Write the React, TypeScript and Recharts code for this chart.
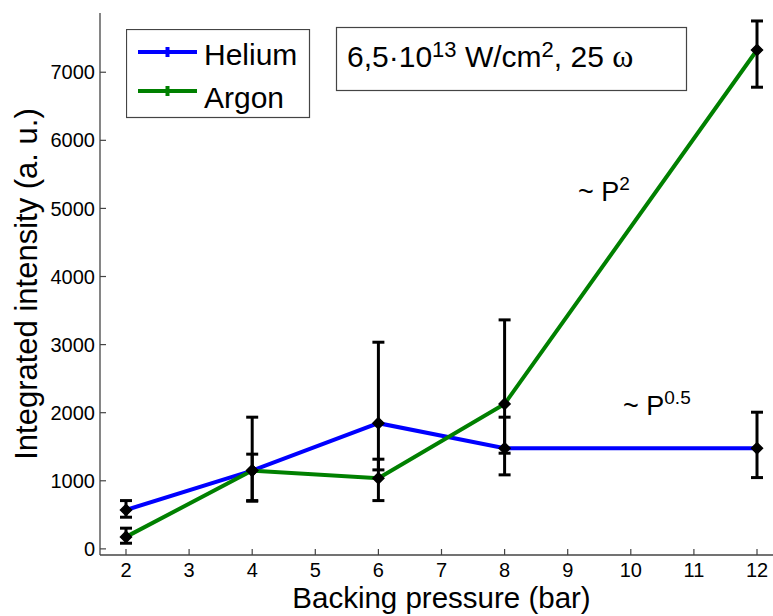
import React from 'react';
import { ComposedChart, Line, XAxis, YAxis, ErrorBar, Legend } from 'recharts';

// Backing pressure (bar)
const pressures = [2, 4, 6, 8, 12];
// Helium integrated intensity and error bounds
const helium = [571, 1150, 1846, 1478, 1478];
const heliumLow = [465, 709, 1160, 1087, 1047];
const heliumHigh = [709, 1934, 3035, 1934, 2007];
// Argon integrated intensity and error bounds
const argon = [176, 1150, 1038, 2129, 7327];
const argonLow = [83, 700, 709, 1405, 6780];
const argonHigh = [304, 1391, 1317, 3363, 7753];

const xTicks = [2, 3, 4, 5, 6, 7, 8, 9, 10, 11, 12];
const yTicks = [0, 1000, 2000, 3000, 4000, 5000, 6000, 7000];

const seriesNames = ['Helium', 'Argon'];
const seriesColors = ['#0000ff', '#008000'];

const data = pressures.map((p, i) => ({
  p,
  he: helium[i],
  heErr: [helium[i] - heliumLow[i], heliumHigh[i] - helium[i]],
  ar: argon[i],
  arErr: [argon[i] - argonLow[i], argonHigh[i] - argon[i]],
}));

const FONT = '"Liberation Sans", Arial, sans-serif';
const AXIS = '#444';

const renderDot = (props: any) => {
  const { cx, cy, index } = props;
  if (cx == null || cy == null) return <g key={`d${index}`} />;
  const s = 5.5;
  return (
    <path
      key={`d-${props.dataKey}-${index}`}
      d={`M${cx},${cy - s} L${cx + s},${cy} L${cx},${cy + s} L${cx - s},${cy} Z`}
      fill="#000"
      stroke="#000"
      strokeWidth={1.5}
    />
  );
};

const LegendBox = () => (
  <svg width={185} height={90} style={{ display: 'block' }}>
    <rect x={0.5} y={0.5} width={183} height={88} fill="#fff" stroke={AXIS} strokeWidth={1.2} />
    {seriesNames.map((name, i) => {
      const y = 23 + i * 39;
      return (
        <g key={name}>
          <line x1={12} x2={71} y1={y} y2={y} stroke={seriesColors[i]} strokeWidth={4} />
          <line x1={41.5} x2={41.5} y1={y - 5} y2={y + 5} stroke={seriesColors[i]} strokeWidth={4} />
          <text x={78} y={36 + i * 43} fontSize={30} fontFamily={FONT} fill="#000">
            {name}
          </text>
        </g>
      );
    })}
  </svg>
);

export default function App() {
  return (
    <div
      style={{
        position: 'absolute',
        left: 0,
        top: 0,
        width: 773,
        height: 616,
        overflow: 'hidden',
        background: '#fff',
        fontFamily: FONT,
      }}
    >
      <ComposedChart
        width={800}
        height={616}
        data={data}
        margin={{ top: 13, right: 17, bottom: 0, left: 0 }}
        style={{ fontFamily: FONT }}
      >
        <XAxis
          xAxisId="top"
          orientation="top"
          dataKey="p"
          type="number"
          domain={[1.588, 12.412]}
          ticks={xTicks}
          height={0}
          tick={false}
          tickSize={-6}
          axisLine={{ stroke: AXIS, strokeWidth: 1.3 }}
          tickLine={{ stroke: AXIS, strokeWidth: 1.2 }}
          allowDataOverflow
        />
        <XAxis
          dataKey="p"
          type="number"
          domain={[1.588, 12.412]}
          ticks={xTicks}
          height={61}
          tickSize={-6}
          tickMargin={14}
          interval={0}
          axisLine={{ stroke: AXIS, strokeWidth: 1.3 }}
          tickLine={{ stroke: AXIS, strokeWidth: 1.2 }}
          tick={{ fill: '#000', fontSize: 20, fontFamily: FONT }}
          allowDataOverflow
          label={{
            value: 'Backing pressure (bar)',
            position: 'insideBottom',
            offset: 8,
            fill: '#000',
            fontSize: 29.5,
            fontFamily: FONT,
          }}
        />
        <YAxis
          type="number"
          domain={[-90, 7870]}
          ticks={yTicks}
          width={100}
          tickSize={-6}
          tickMargin={11}
          interval={0}
          axisLine={{ stroke: AXIS, strokeWidth: 1.3 }}
          tickLine={{ stroke: AXIS, strokeWidth: 1.2 }}
          tick={{ fill: '#000', fontSize: 20, fontFamily: FONT }}
          allowDataOverflow
          label={{
            value: 'Integrated intensity (a. u.)',
            angle: -90,
            position: 'insideLeft',
            offset: 26,
            fill: '#000',
            fontSize: 31,
            fontFamily: FONT,
            style: { textAnchor: 'middle' },
          }}
        />
        <Legend
          layout="horizontal"
          verticalAlign="middle"
          align="center"
          wrapperStyle={{ left: 126, top: 29, width: 185, height: 90 }}
          content={() => <LegendBox />}
        />
        <Line
          type="linear"
          dataKey="he"
          name={seriesNames[0]}
          stroke={seriesColors[0]}
          strokeWidth={4}
          dot={renderDot}
          activeDot={false}
          isAnimationActive={false}
        >
          <ErrorBar dataKey="heErr" width={6} strokeWidth={3} stroke="#000" direction="y" isAnimationActive={false} />
        </Line>
        <Line
          type="linear"
          dataKey="ar"
          name={seriesNames[1]}
          stroke={seriesColors[1]}
          strokeWidth={4}
          dot={renderDot}
          activeDot={false}
          isAnimationActive={false}
        >
          <ErrorBar dataKey="arErr" width={6} strokeWidth={3} stroke="#000" direction="y" isAnimationActive={false} />
        </Line>
      </ComposedChart>
      <svg
        width={773}
        height={616}
        style={{ position: 'absolute', left: 0, top: 0, pointerEvents: 'none' }}
      >
        <rect x={336.5} y={27.5} width={350} height={63} fill="#fff" stroke={AXIS} strokeWidth={1.2} />
        <text x={347} y={67} fontSize={30} fontFamily={FONT} fill="#000">
          6,5·10
          <tspan dy={-10} fontSize={22}>13</tspan>
          <tspan dy={10}> W/cm</tspan>
          <tspan dy={-10} fontSize={22}>2</tspan>
          <tspan dy={10}>, 25 </tspan>
          <tspan fontFamily='"Liberation Serif", "Times New Roman", serif' fontSize={32}>ω</tspan>
        </text>
        <text x={578} y={201} fontSize={27} fontFamily={FONT} fill="#000">
          ~ P
          <tspan dy={-11} fontSize={19}>2</tspan>
        </text>
        <text x={623} y={415} fontSize={27} fontFamily={FONT} fill="#000">
          ~ P
          <tspan dy={-11} fontSize={19}>0.5</tspan>
        </text>
      </svg>
    </div>
  );
}
